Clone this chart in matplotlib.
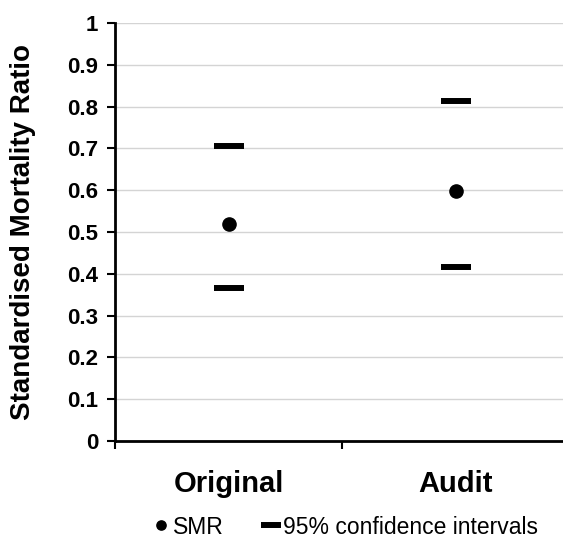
import matplotlib.pyplot as plt

categories = ["Original", "Audit"]
smr = [0.519, 0.598]
ci_upper = [0.706, 0.813]
ci_lower = [0.366, 0.416]
yticks = [0, 0.1, 0.2, 0.3, 0.4, 0.5, 0.6, 0.7, 0.8, 0.9, 1]
ytick_labels = ["0", "0.1", "0.2", "0.3", "0.4", "0.5", "0.6", "0.7", "0.8", "0.9", "1"]

plt.rcParams["font.family"] = ["Liberation Sans", "DejaVu Sans"]

fig = plt.figure(figsize=(5.63, 5.41), dpi=100)
# axes runs past the right edge, like the original export
ax = fig.add_axes([115 / 563, 100 / 541, 454 / 563, 418 / 541])

x = range(len(categories))
ax.plot(x, smr, linestyle="none", marker="o", markersize=9.5, color="black", label="SMR")
ax.plot(x, ci_upper, linestyle="none", marker="_", markersize=21, markeredgewidth=4.3,
        color="black", label="95% confidence intervals")
ax.plot(x, ci_lower, linestyle="none", marker="_", markersize=21, markeredgewidth=4.3,
        color="black")

ax.set_xlim(-0.5, 1.5)
ax.set_ylim(0, 1)
ax.set_yticks(yticks)
ax.set_yticklabels(ytick_labels, fontsize=16, fontweight="bold")
# category boundaries get the tick marks, names go in the middle
ax.set_xticks([-0.5, 0.5, 1.5])
ax.set_xticklabels(["", "", ""])
ax.tick_params(axis="y", direction="out", length=6, width=1.5, pad=6)
ax.tick_params(axis="x", direction="out", length=6, width=1.5)
for i, c in enumerate(categories):
    ax.text(i, -0.102, c, ha="center", va="center", fontsize=21, fontweight="bold")

ax.grid(axis="y", color="#d4d4d4", linewidth=1)
ax.set_axisbelow(True)
for s in ["top", "right"]:
    ax.spines[s].set_visible(False)
ax.spines["left"].set_linewidth(2)
ax.spines["bottom"].set_linewidth(2)

ax.set_ylabel("Standardised Mortality Ratio", fontsize=20, fontweight="bold")
ax.yaxis.set_label_coords((23 - 115) / 454, 0.5)
ax.yaxis.label.set_va("center")

fig.legend(loc="center", bbox_to_anchor=(346 / 563, 1 - 527 / 541), ncol=2, frameon=False,
           fontsize=16.5, handlelength=0.6, handletextpad=0.2, columnspacing=1.8,
           markerscale=0.7)

plt.savefig("out.png")
